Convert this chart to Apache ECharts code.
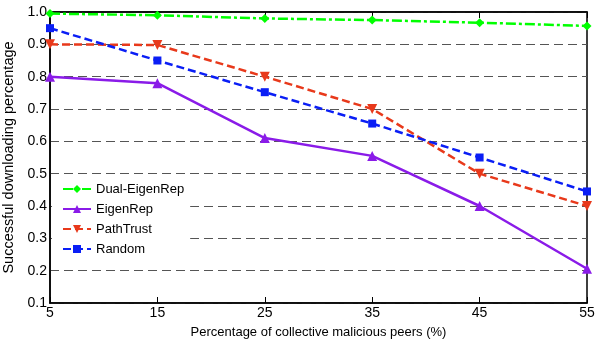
<!DOCTYPE html>
<html>
<head>
<meta charset="utf-8">
<script src="https://cdn.jsdelivr.net/npm/echarts@6/dist/echarts.min.js"></script>
<style>
  html, body { margin: 0; padding: 0; background: #fff; }
  #chart { width: 608px; height: 348px; }
</style>
</head>
<body>
<div id="chart"></div>
<script>
// Share of collective malicious peers (%)
const categories = ['5', '15', '25', '35', '45', '55'];

// Successful downloading percentage per scheme
const dualEigenRep = [0.995, 0.99, 0.98, 0.975, 0.967, 0.957];
const eigenRep     = [0.80, 0.78, 0.61, 0.555, 0.40, 0.206];
const pathTrust    = [0.90, 0.898, 0.80, 0.70, 0.50, 0.40];
const randomSel    = [0.95, 0.85, 0.752, 0.655, 0.55, 0.445];

const yTicks = [0.1, 0.2, 0.3, 0.4, 0.5, 0.6, 0.7, 0.8, 0.9, 1.0];

const font = 'Liberation Sans, Arial, sans-serif';

function lineSeries(name, data, color, lineType, symbol, symbolSize, rotate) {
  return {
    name: name,
    type: 'line',
    data: data,
    symbol: symbol,
    symbolSize: symbolSize,
    symbolRotate: rotate || 0,
    showAllSymbol: true,
    lineStyle: { color: color, width: 2.5, type: lineType },
    itemStyle: { color: color, borderWidth: 0 },
    emphasis: { disabled: true },
    z: 3
  };
}

const chart = echarts.init(document.getElementById('chart'), null, { renderer: 'canvas' });

chart.setOption({
  animation: false,
  backgroundColor: '#fff',
  textStyle: { fontFamily: font },
  grid: {
    left: 50, right: 21, top: 12, bottom: 45,
    outerBoundsMode: 'none',
    containLabel: false,
    show: true, borderColor: '#000', borderWidth: 1.5, backgroundColor: 'transparent'
  },
  legend: {
    orient: 'vertical',
    left: 52,
    top: 178,
    itemWidth: 28,
    itemHeight: 10,
    itemGap: 6,
    padding: [4, 6, 4, 10],
    backgroundColor: '#fff',
    textStyle: { fontSize: 13, color: '#000', fontFamily: font, height: 14, lineHeight: 14 },
    data: ['Dual-EigenRep', 'EigenRep', 'PathTrust', 'Random']
  },
  xAxis: [{
    type: 'category',
    data: categories,
    boundaryGap: false,
    name: 'Percentage of collective malicious peers (%)',
    nameLocation: 'middle',
    nameGap: 23,
    nameTextStyle: { fontSize: 13, color: '#000', fontFamily: font },
    axisLine: { lineStyle: { color: '#000', width: 1.5 } },
    axisTick: { inside: true, length: 6, lineStyle: { color: '#000' } },
    axisLabel: { fontSize: 14, color: '#000', margin: 3, fontFamily: font },
    splitLine: { show: false }
  }, {
    type: 'category',
    data: categories,
    boundaryGap: false,
    position: 'top',
    axisLine: { lineStyle: { color: '#000', width: 1.5 } },
    axisTick: { inside: true, length: 6, lineStyle: { color: '#000' } },
    axisLabel: { show: false },
    splitLine: { show: false }
  }],
  yAxis: {
    type: 'value',
    min: 0.1,
    max: 1.0,
    interval: 0.1,
    name: 'Successful downloading percentage',
    nameLocation: 'middle',
    nameGap: 31,
    nameTextStyle: { fontSize: 14.5, color: '#000', fontFamily: font },
    axisLine: { show: true, lineStyle: { color: '#000', width: 1.5 } },
    axisTick: { show: false },
    axisLabel: {
      fontSize: 14, color: '#000', margin: 3, fontFamily: font,
      formatter: function (v) {
        const t = yTicks.find(function (k) { return Math.abs(k - v) < 1e-6; });
        return t !== undefined ? t.toFixed(1) : '';
      }
    },
    splitLine: {
      show: true,
      lineStyle: { color: '#555', width: 1, type: [9, 5] }
    }
  },
  series: [
    lineSeries('Dual-EigenRep', dualEigenRep, '#00ff00', [10, 3, 3, 3], 'diamond', 9),
    lineSeries('EigenRep', eigenRep, '#8a1be8', 'solid', 'triangle', 10),
    lineSeries('PathTrust', pathTrust, '#e8391b', [8, 4], 'triangle', 10, 180),
    lineSeries('Random', randomSel, '#0a1ef5', [8, 4], 'rect', 8)
  ]
});
</script>
</body>
</html>
